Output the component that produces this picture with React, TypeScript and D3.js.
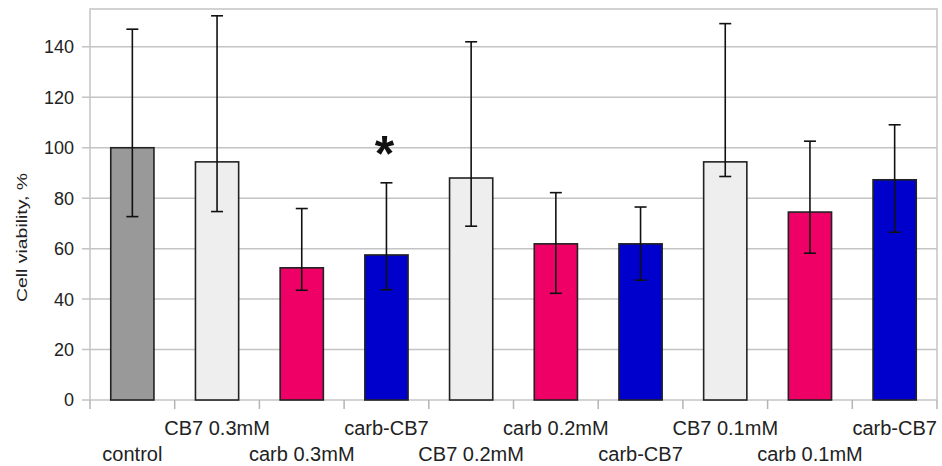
import React, { useEffect, useRef } from 'react';
import * as d3 from 'd3';

const categories = ['control', 'CB7 0.3mM', 'carb 0.3mM', 'carb-CB7', 'CB7 0.2mM', 'carb 0.2mM', 'carb-CB7', 'CB7 0.1mM', 'carb 0.1mM', 'carb-CB7'];
const viability = [100, 94.4, 52.4, 57.5, 88, 61.9, 61.9, 94.4, 74.5, 87.3];
const errHigh = [147, 152.3, 75.9, 86.1, 142, 82.2, 76.5, 149.2, 102.6, 109.1];
const errLow = [72.7, 74.7, 43.5, 43.7, 68.9, 42.3, 47.5, 88.6, 58.2, 66.5];
const groups = ['control', 'CB7', 'carb', 'carb-CB7', 'CB7', 'carb', 'carb-CB7', 'CB7', 'carb', 'carb-CB7'];
const yTicks = [0, 20, 40, 60, 80, 100, 120, 140];
const significant = [{ index: 3, value: 101, label: '*' }];

const W = 942;
const H = 466;

const App = () => {
  const ref = useRef<SVGSVGElement>(null);

  useEffect(() => {
    const margin = { top: 9, right: 5, bottom: 66, left: 90 };
    const width = W - margin.left - margin.right;
    const height = H - margin.top - margin.bottom;

    const svg = d3.select(ref.current);
    svg.selectAll('*').remove();

    const g = svg.append('g')
      .attr('transform', `translate(${margin.left},${margin.top})`);

    const idx = categories.map((_, i) => i);
    const x = d3.scaleBand<number>()
      .domain(idx)
      .range([0, width])
      .paddingInner(0.49)
      .paddingOuter(0.245);
    const step = x.step();

    const y = d3.scaleLinear().domain([0, 155]).range([height, 0]);

    const colour = d3.scaleOrdinal<string, string>()
      .domain(['control', 'CB7', 'carb', 'carb-CB7'])
      .range(['#999999', '#eeeeee', '#ee0066', '#0000cc']);

    // grid + y ticks
    g.selectAll('.grid')
      .data(yTicks)
      .enter()
      .append('line')
        .attr('x1', -8)
        .attr('x2', width)
        .attr('y1', d => y(d))
        .attr('y2', d => y(d))
        .attr('stroke', '#c4c4c4')
        .attr('stroke-width', 1.5);

    g.selectAll('.ytick')
      .data(yTicks)
      .enter()
      .append('text')
        .attr('x', -16)
        .attr('y', d => y(d))
        .attr('dy', '0.36em')
        .attr('text-anchor', 'end')
        .style('font-family', 'Liberation Sans, Arial, sans-serif')
        .style('font-size', '18px')
        .attr('fill', '#222')
        .text(d => d);

    // plot frame
    g.append('path')
      .attr('d', `M0,${height}V0H${width}V${height}`)
      .attr('fill', 'none')
      .attr('stroke', '#c4c4c4')
      .attr('stroke-width', 1.5);

    // x ticks at category boundaries
    g.selectAll('.xtick')
      .data(d3.range(categories.length + 1))
      .enter()
      .append('line')
        .attr('x1', d => d * step)
        .attr('x2', d => d * step)
        .attr('y1', height)
        .attr('y2', height + 9)
        .attr('stroke', '#b4b4b4')
        .attr('stroke-width', 1.5);

    // bars
    g.selectAll('.bar')
      .data(idx)
      .enter()
      .append('rect')
        .attr('x', i => x(i)!)
        .attr('width', x.bandwidth())
        .attr('y', i => y(viability[i]))
        .attr('height', i => y(0) - y(viability[i]))
        .attr('fill', i => colour(groups[i]))
        .attr('stroke', '#222')
        .attr('stroke-width', 1.6);

    // error bars
    const eb = g.selectAll('.err')
      .data(idx)
      .enter()
      .append('g')
        .attr('transform', i => `translate(${x(i)! + x.bandwidth() / 2},0)`)
        .attr('stroke', '#111')
        .attr('stroke-width', 1.6);
    eb.append('line')
      .attr('y1', i => y(errLow[i]))
      .attr('y2', i => y(errHigh[i]));
    eb.append('line')
      .attr('x1', -6).attr('x2', 6)
      .attr('y1', i => y(errHigh[i]))
      .attr('y2', i => y(errHigh[i]));
    eb.append('line')
      .attr('x1', -6).attr('x2', 6)
      .attr('y1', i => y(errLow[i]))
      .attr('y2', i => y(errLow[i]));

    // significance marks
    g.selectAll('.sig')
      .data(significant)
      .enter()
      .append('text')
        .attr('x', d => x(d.index)! + x.bandwidth() / 2 - 2)
        .attr('y', d => y(d.value) + 26)
        .attr('text-anchor', 'middle')
        .style('font-family', 'Liberation Sans, Arial, sans-serif')
        .style('font-size', '50px')
        .style('font-weight', 'bold')
        .attr('fill', '#111')
        .text(d => d.label);

    // category labels, staggered in two rows
    g.selectAll('.xlabel')
      .data(idx)
      .enter()
      .append('text')
        .attr('x', i => x(i)! + x.bandwidth() / 2)
        .attr('y', i => (i % 2 === 0 ? height + 61 : height + 35))
        .attr('text-anchor', 'middle')
        .style('font-family', 'Liberation Sans, Arial, sans-serif')
        .style('font-size', '20px')
        .attr('fill', '#222')
        .text(i => categories[i]);

    // y axis title
    svg.append('text')
      .attr('transform', `translate(27,${302}) rotate(-90)`)
      .attr('textLength', 129)
      .attr('lengthAdjust', 'spacingAndGlyphs')
      .style('font-family', 'Liberation Sans, Arial, sans-serif')
      .style('font-size', '15px')
      .attr('fill', '#222')
      .text('Cell viability, %');
  });

  return (
    <svg
      ref={ref}
      width={W}
      height={H}
      style={{ position: 'absolute', left: 0, top: 0, background: '#fff' }}
    />
  );
};

export default App;
